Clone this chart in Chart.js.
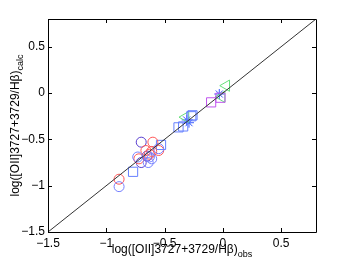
<!DOCTYPE html>
<html lang="en">
  <head>
    <meta charset="utf-8">
    <script src="https://cdn.jsdelivr.net/npm/chart.js"></script>
    <title>OII calc vs obs</title>
    <style>
      html, body { margin: 0; padding: 0; background: #fff; }
      #chart { width: 349px; height: 263px; }
    </style>
  </head>
  <body>
    <div id="chart"><canvas id="c" width="349" height="263"></canvas></div>
  </body>
  <script>
    // axis settings
    const axisMin = -1.5;
    const axisMax = 0.8;
    const tickValues = [-1.5, -1, -0.5, 0, 0.5];

    // observed (x) and calculated (y) log values, one pair of arrays per marker group
    const redCircleObs  = [-0.89, -0.60, -0.66, -0.61, -0.55, -0.72, -0.63];
    const redCircleCalc = [-0.93, -0.53, -0.62, -0.63, -0.62, -0.71, -0.66];
    const blueCircleObs  = [-0.89, -0.73, -0.64, -0.63, -0.55, -0.61];
    const blueCircleCalc = [-1.01, -0.69, -0.75, -0.69, -0.60, -0.71];
    const purpleCircleObs  = [-0.70, -0.70, -0.65];
    const purpleCircleCalc = [-0.53, -0.75, -0.68];
    const blueSquareObs  = [-0.77, -0.53, -0.38, -0.34, -0.27, -0.26];
    const blueSquareCalc = [-0.85, -0.56, -0.37, -0.36, -0.25, -0.24];
    const violetSquareObs  = [-0.10, -0.02];
    const violetSquareCalc = [-0.10, -0.05];
    const greenTriObs  = [-0.32, 0.03, -0.01];
    const greenTriCalc = [-0.26, 0.08, -0.04];
    const blueStarObs  = [-0.31, -0.29, -0.03];
    const blueStarCalc = [-0.29, -0.32, -0.01];

    function pts(xs, ys) {
      return xs.map((x, i) => ({x: x, y: ys[i]}));
    }
    function fmt(v) {
      return String(v).replace('-', '\u2212');
    }

    const font = {family: 'Liberation Sans, Arial, sans-serif', size: 12};

    // box, inward ticks on all 4 sides, and axis titles with subscripts
    const framePlugin = {
      id: 'frame',
      afterDraw(chart) {
        const ctx = chart.ctx;
        const a = chart.chartArea;
        const xs = chart.scales.x, ys = chart.scales.y;
        ctx.save();
        ctx.strokeStyle = '#000';
        ctx.lineWidth = 1;
        ctx.beginPath();
        ctx.rect(Math.round(a.left) + 0.5, Math.round(a.top) + 0.5,
                 Math.round(a.right - a.left), Math.round(a.bottom - a.top));
        const tl = 4;
        tickValues.forEach(v => {
          const px = Math.round(xs.getPixelForValue(v)) + 0.5;
          ctx.moveTo(px, a.bottom); ctx.lineTo(px, a.bottom - tl);
          ctx.moveTo(px, a.top); ctx.lineTo(px, a.top + tl);
          const py = Math.round(ys.getPixelForValue(v)) + 0.5;
          ctx.moveTo(a.left, py); ctx.lineTo(a.left + tl, py);
          ctx.moveTo(a.right, py); ctx.lineTo(a.right - tl, py);
        });
        ctx.stroke();

        // titles
        ctx.fillStyle = '#000';
        ctx.textBaseline = 'alphabetic';
        const main = 'log([OII]3727+3729/H\u03b2)';
        const big = '12px Liberation Sans, Arial, sans-serif';
        const small = '9px Liberation Sans, Arial, sans-serif';
        ctx.font = big;
        const w1 = ctx.measureText(main).width;
        ctx.font = small;
        const w2 = ctx.measureText('obs').width;
        const w3 = ctx.measureText('calc').width;
        const cx = (a.left + a.right) / 2;
        let x0 = cx - (w1 + w2) / 2;
        ctx.font = big;
        ctx.fillText(main, x0, 253);
        ctx.font = small;
        ctx.fillText('obs', x0 + w1, 257);

        ctx.translate(19, (a.top + a.bottom) / 2);
        ctx.rotate(-Math.PI / 2);
        x0 = -(w1 + w3) / 2;
        ctx.font = big;
        ctx.fillText(main, x0, 0);
        ctx.font = small;
        ctx.fillText('calc', x0 + w1, 4);
        ctx.restore();
      }
    };

    function markerSet(data, style, color, extra) {
      return Object.assign({
        data: data,
        pointStyle: style,
        pointRadius: 5,
        pointBorderWidth: 1,
        borderColor: color,
        pointBorderColor: color,
        backgroundColor: 'rgba(0,0,0,0)',
        pointBackgroundColor: 'rgba(0,0,0,0)',
        showLine: false
      }, extra || {});
    }

    new Chart(document.getElementById('c'), {
      type: 'scatter',
      data: {
        datasets: [
          {
            data: [{x: axisMin, y: axisMin}, {x: axisMax, y: axisMax}],
            showLine: true,
            borderColor: '#333',
            borderWidth: 1,
            pointRadius: 0
          },
          markerSet(pts(blueCircleObs, blueCircleCalc), 'circle', '#7580ff'),
          markerSet(pts(redCircleObs, redCircleCalc), 'circle', '#ff5757'),
          markerSet(pts(purpleCircleObs, purpleCircleCalc), 'circle', '#5a3fcf'),
          markerSet(pts(blueSquareObs, blueSquareCalc), 'rect', '#6680ff', {pointRadius: 6.5}),
          markerSet(pts(violetSquareObs, violetSquareCalc), 'rect', '#c055ee', {pointRadius: 6.5}),
          markerSet(pts(greenTriObs, greenTriCalc), 'triangle', '#66e07a', {pointRotation: 270, pointRadius: 6.5}),
          markerSet(pts(blueStarObs, blueStarCalc), 'star', '#3a5cff', {pointRadius: 5})
        ]
      },
      options: {
        responsive: false,
        animation: false,
        events: [],
        layout: {padding: {left: 0, top: 19, right: 33, bottom: 0}},
        plugins: {legend: {display: false}, tooltip: {enabled: false}},
        scales: {
          x: {
            type: 'linear',
            min: axisMin,
            max: axisMax,
            afterBuildTicks: s => { s.ticks = tickValues.map(v => ({value: v})); },
            afterFit: s => { s.height = 31; },
            grid: {display: false, drawTicks: false},
            border: {display: false},
            ticks: {color: '#000', font: font, padding: 4, maxRotation: 0, autoSkip: false,
                    callback: v => fmt(v)}
          },
          y: {
            type: 'linear',
            min: axisMin,
            max: axisMax,
            afterBuildTicks: s => { s.ticks = tickValues.map(v => ({value: v})); },
            afterFit: s => { s.width = 48; },
            grid: {display: false, drawTicks: false},
            border: {display: false},
            ticks: {color: '#000', font: font, padding: 3, autoSkip: false,
                    callback: v => fmt(v)}
          }
        }
      },
      plugins: [framePlugin]
    });
  </script>
</html>
